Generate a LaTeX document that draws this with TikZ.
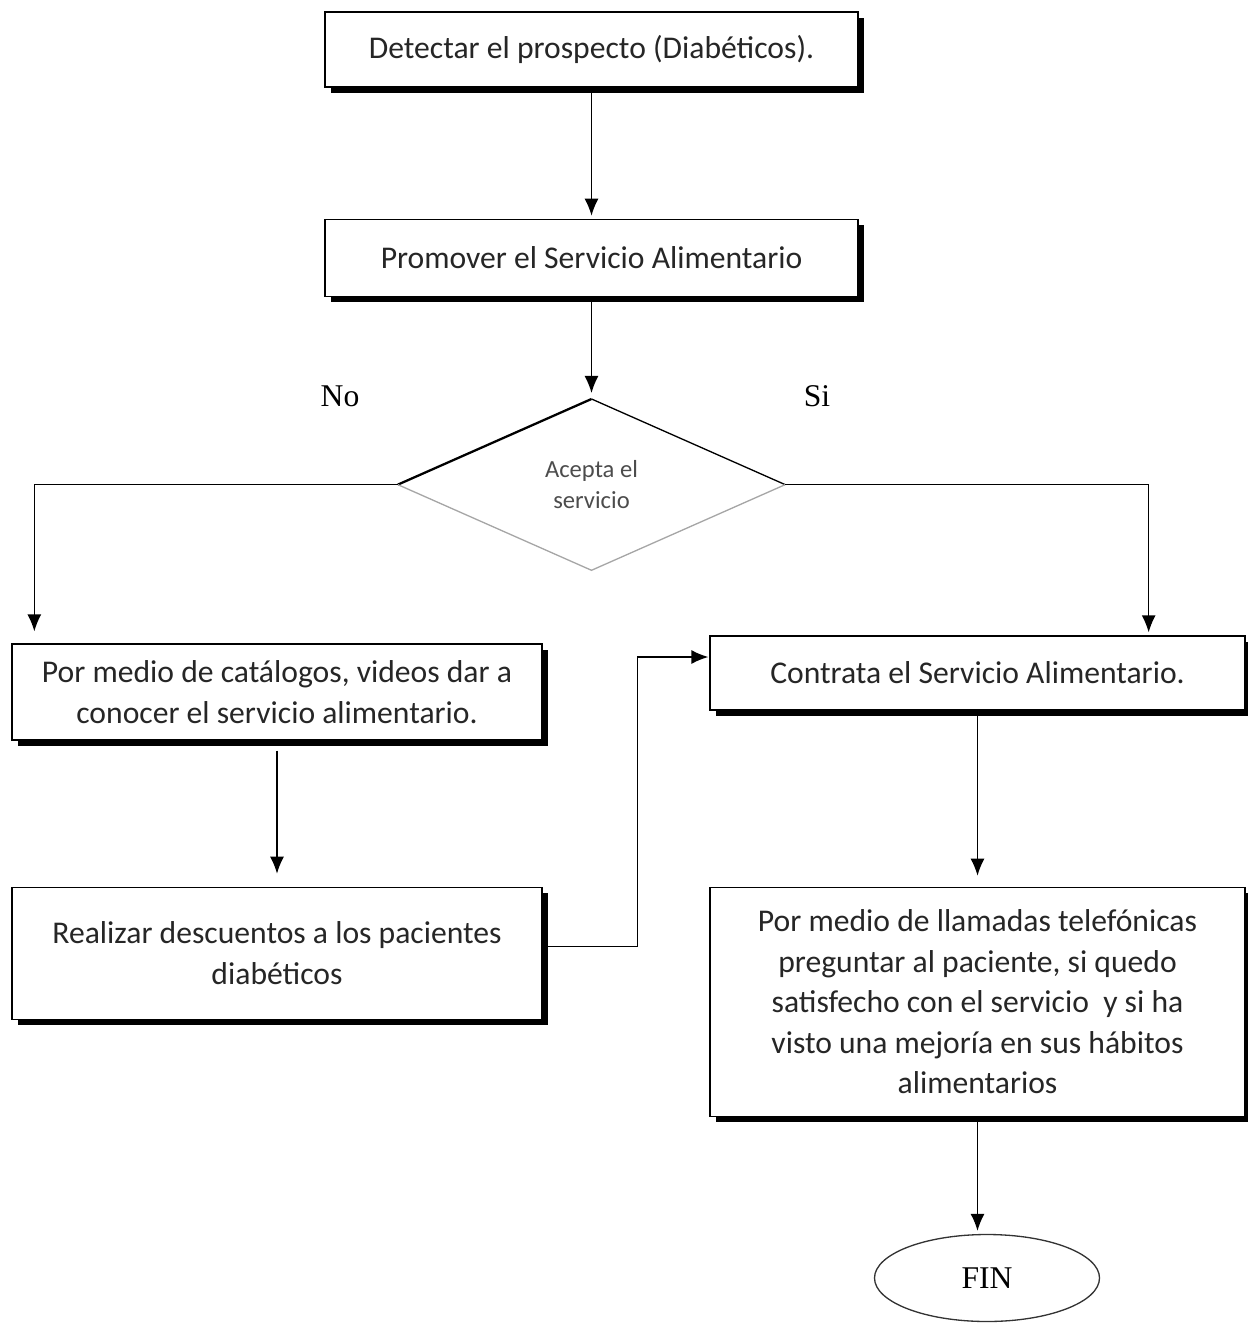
\documentclass[tikz,border=0pt]{standalone}
\usepackage{fontspec}
\setmainfont{Carlito}
\newfontfamily\timesfont{Liberation Serif}
\usetikzlibrary{positioning,shapes.geometric,shadows,arrows.meta}

\begin{document}
\begin{tikzpicture}[
  node distance=2.6cm,
  line width=0.75pt,
  box/.style={
    draw,
    fill=white,
    align=center,
    text=black!85,
    font=\fontsize{18}{23}\selectfont,
    drop shadow={shadow xshift=0.12cm, shadow yshift=-0.12cm, fill=black, opacity=1}
  },
  decision/.style={
    diamond,
    aspect=2.27,
    inner sep=0pt,
    align=center,
    text=black!70,
    font=\fontsize{14}{17.6}\selectfont
  },
  finbox/.style={
    ellipse,
    draw=black!80,
    font=\timesfont\fontsize{18}{22}\selectfont
  },
  arr/.style={-{Latex[length=0.34cm,width=0.28cm]}, shorten >=0.06cm}
]
\useasboundingbox (0,0) rectangle (24.94,-26.68);

\node[box, minimum width=10.66cm, minimum height=1.5cm] (detect) at (11.83,-0.99) {Detectar el prospecto (Diabéticos).};
\node[box, minimum width=10.66cm, minimum height=1.54cm, below=2.62cm of detect] (promo) {Promover el Servicio Alimentario};
\node[decision, minimum width=7.72cm, minimum height=3.4cm, below=2.04cm of promo] (acepta) {Acepta el\\servicio};

\node[box, minimum width=10.6cm, minimum height=1.92cm] (catalog) at (5.54,-13.84) {Por medio de catálogos, videos dar a\\conocer el servicio alimentario.};
\node[box, minimum width=10.6cm, minimum height=2.64cm, below=2.92cm of catalog] (descuento) {Realizar descuentos a los pacientes\\diabéticos};

\node[box, minimum width=10.7cm, minimum height=1.48cm] (contrata) at (19.55,-13.46) {Contrata el Servicio Alimentario.};
\node[box, minimum width=10.7cm, minimum height=4.58cm, below=3.52cm of contrata] (llamadas) {Por medio de llamadas telefónicas\\preguntar al paciente, si quedo\\satisfecho con el servicio\ \ y si ha\\visto una mejoría en sus hábitos\\alimentarios};
\node[finbox, minimum width=4.5cm, minimum height=1.74cm] (fin) at (19.74,-25.56) {FIN};

\node[font=\timesfont\fontsize{18}{22}\selectfont] (no) at (6.8,-7.92) {No};
\node[font=\timesfont\fontsize{18}{22}\selectfont] (si) at (16.34,-7.92) {Si};

% diamond edges
\draw[line width=1.3pt] (acepta.west) -- (acepta.north);
\draw (acepta.north) -- (acepta.east);
\draw[black!35] (acepta.east) -- (acepta.south) -- (acepta.west);

\draw[arr] (detect) -- (promo);
\draw[arr, shorten >=0.12cm] (promo) -- (acepta);
\draw[arr, shorten >=0.24cm] (acepta.west) -| ([xshift=0.46cm]catalog.north west);
\draw[arr] (acepta.east) -| ([xshift=-1.94cm]contrata.north east);
\draw[arr, shorten >=0.26cm] ([yshift=-0.2cm]catalog.south) -- (descuento.north);
\draw[arr, shorten >=0.02cm] ([yshift=0.14cm]descuento.east) -- ++(1.9cm,0) |- ([yshift=0.32cm]contrata.west);
\draw[arr, shorten >=0.22cm] (contrata.south) -- (llamadas.north);
\draw[arr] (llamadas.south) -- (llamadas.south |- fin.north);
\end{tikzpicture}
\end{document}
